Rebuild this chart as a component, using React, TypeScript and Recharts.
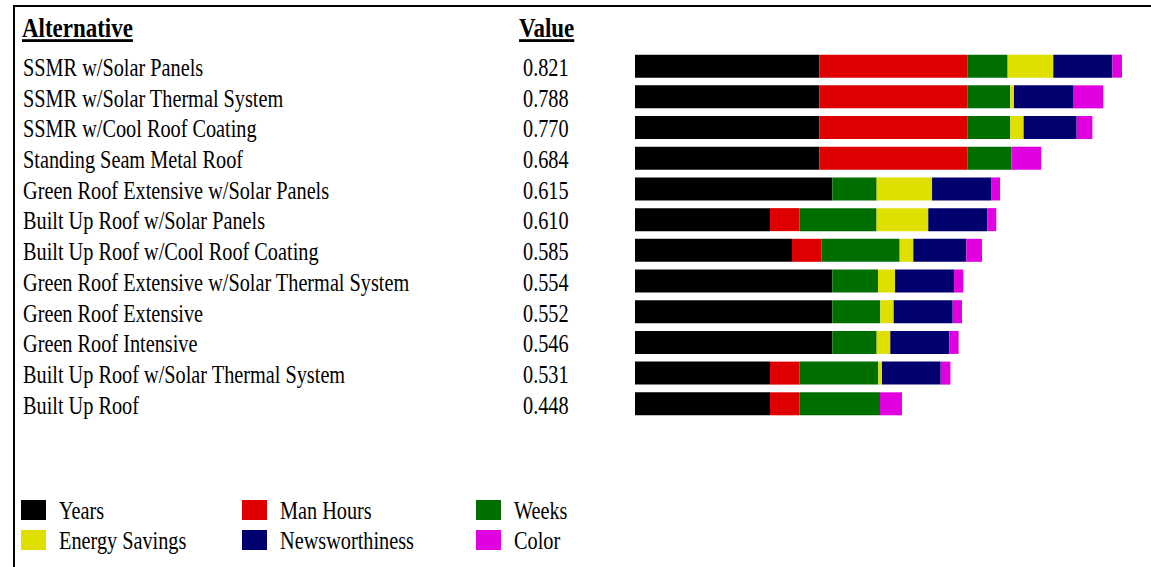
import { BarChart, Bar, XAxis, YAxis } from "recharts";

const alternatives = [
  "SSMR w/Solar Panels",
  "SSMR w/Solar Thermal System",
  "SSMR w/Cool Roof Coating",
  "Standing Seam Metal Roof",
  "Green Roof Extensive w/Solar Panels",
  "Built Up Roof w/Solar Panels",
  "Built Up Roof w/Cool Roof Coating",
  "Green Roof Extensive w/Solar Thermal System",
  "Green Roof Extensive",
  "Green Roof Intensive",
  "Built Up Roof w/Solar Thermal System",
  "Built Up Roof",
];
const totals = ["0.821", "0.788", "0.770", "0.684", "0.615", "0.610", "0.585", "0.554", "0.552", "0.546", "0.531", "0.448"];

const years = [0.3107, 0.3107, 0.3107, 0.3107, 0.3327, 0.2276, 0.2647, 0.3327, 0.3327, 0.3327, 0.2276, 0.2276];
const manHours = [0.2495, 0.2495, 0.2495, 0.2495, 0, 0.0499, 0.0494, 0, 0, 0, 0.0499, 0.0499];
const weeks = [0.068, 0.0725, 0.0725, 0.0742, 0.0747, 0.1298, 0.1321, 0.077, 0.0809, 0.0747, 0.1327, 0.1355];
const energySavings = [0.077, 0.0062, 0.0225, 0, 0.0934, 0.0871, 0.023, 0.0287, 0.0225, 0.023, 0.0062, 0];
const newsworthiness = [0.0995, 0.0995, 0.0894, 0, 0.0995, 0.0995, 0.0894, 0.0995, 0.0995, 0.0995, 0.099, 0];
const color = [0.0163, 0.0511, 0.0265, 0.0505, 0.0152, 0.0152, 0.0264, 0.0157, 0.0157, 0.0157, 0.0164, 0.0371];

const series = [
  { key: "years", name: "Years", fill: "#000000" },
  { key: "manHours", name: "Man Hours", fill: "#de0000" },
  { key: "weeks", name: "Weeks", fill: "#006f00" },
  { key: "energy", name: "Energy Savings", fill: "#dfdf00" },
  { key: "news", name: "Newsworthiness", fill: "#00006e" },
  { key: "color", name: "Color", fill: "#e000e0" },
];

const data = alternatives.map((name, i) => ({
  name,
  total: totals[i],
  years: years[i],
  manHours: manHours[i],
  weeks: weeks[i],
  energy: energySavings[i],
  news: newsworthiness[i],
  color: color[i],
}));

const FONT = "'Liberation Serif', 'Times New Roman', serif";

// squeezed serif text, like the original export
function Txt({ x, y, children, bold = false, size = 26, sx = 0.78, underline = false }: any) {
  return (
    <text
      transform={`translate(${x},${y}) scale(${sx},1)`}
      fontFamily={FONT}
      fontSize={size}
      fontWeight={bold ? "bold" : "normal"}
      textDecoration={underline ? "underline" : undefined}
      fill="#000"
    >
      {children}
    </text>
  );
}

function RowTick(props: any) {
  const { y, index, payload } = props;
  return (
    <g>
      <Txt x={23} y={y + 10}>{payload.value}</Txt>
      <Txt x={523} y={y + 10}>{totals[index]}</Txt>
    </g>
  );
}

function LegendBox() {
  const cols = [21, 242, 476];
  return (
    <svg width={640} height={67} style={{ position: "absolute", left: 0, top: 500, overflow: "visible" }}>
      {series.map((s, i) => {
        const cx = cols[i % 3];
        const ry = i < 3 ? 0 : 30;
        return (
          <g key={s.key}>
            <rect x={cx} y={ry} width={25} height={20} fill={s.fill} />
            <Txt x={cx + 38} y={ry + 19}>{s.name}</Txt>
          </g>
        );
      })}
    </svg>
  );
}

export default function App() {
  return (
    <div style={{ position: "absolute", left: 0, top: 0, width: 1151, height: 567, background: "#fff", overflow: "hidden" }}>
      <div style={{ position: "absolute", left: 13, top: 5, right: 0, bottom: 0, borderTop: "2px solid #000", borderLeft: "2px solid #000" }} />
      <svg width={700} height={50} style={{ position: "absolute", left: 0, top: 0 }}>
        <Txt x={22} y={37} bold size={28} sx={0.82} underline>Alternative</Txt>
        <Txt x={519} y={37} bold size={28} sx={0.82} underline>Value</Txt>
      </svg>
      <div style={{ position: "absolute", left: 0, top: 0 }}>
        <BarChart
          width={1151}
          height={567}
          data={data}
          layout="vertical"
          margin={{ top: 50.65, right: 11.8, bottom: 148, left: 0 }}
          barSize={23}
        >
          <XAxis type="number" domain={[0, 0.85]} hide />
          <YAxis type="category" dataKey="name" width={635} axisLine={false} tickLine={false} tick={RowTick} interval={0} />
          {series.map((s) => (
            <Bar key={s.key} dataKey={s.key} name={s.name} stackId="a" fill={s.fill} isAnimationActive={false} />
          ))}
        </BarChart>
      </div>
      <LegendBox />
    </div>
  );
}
